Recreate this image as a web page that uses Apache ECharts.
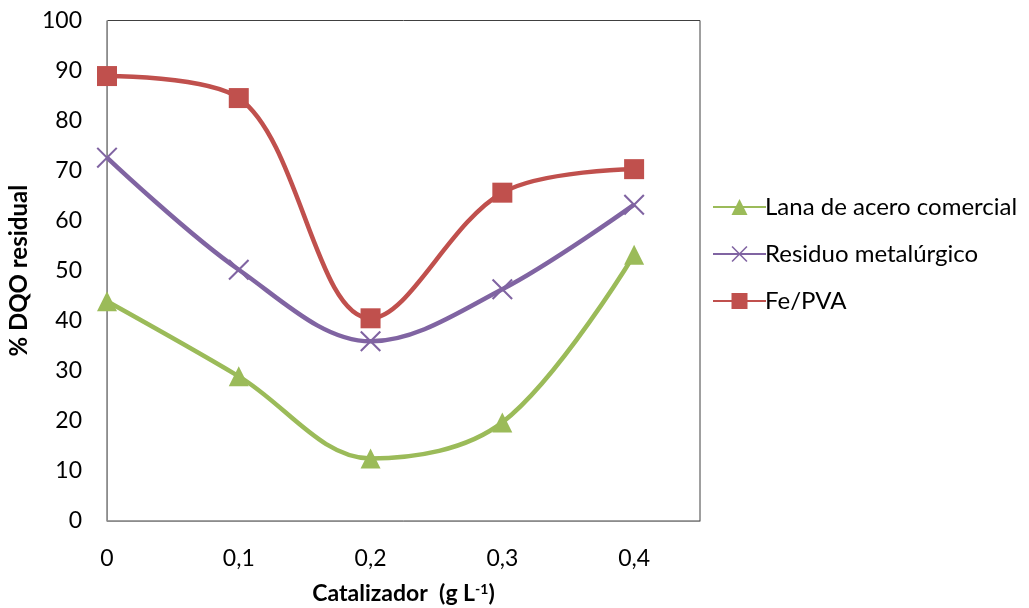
<!DOCTYPE html>
<html>
<head>
<meta charset="utf-8">
<script src="https://cdn.jsdelivr.net/npm/echarts@6/dist/echarts.min.js"></script>
<style>
  html, body { margin: 0; padding: 0; background: #fff; }
  #chart { width: 1029px; height: 608px; }
</style>
</head>
<body>
<div id="chart"></div>
<script>
  // dosis de catalizador (g/L)
  const catalizador = [0, 0.1, 0.2, 0.3, 0.4];
  const lana = [43.9, 28.9, 12.5, 19.7, 53.2];
  const residuo = [72.6, 50.2, 35.9, 46.3, 63.2];
  const fePva = [88.9, 84.5, 40.5, 65.6, 70.3];
  const yTicks = [0, 10, 20, 30, 40, 50, 60, 70, 80, 90, 100];

  const FONT = 'Lato';
  const crossPath = 'path://M0,0.7 L0.7,0 L10,9.3 L9.3,10 Z M9.3,0 L10,0.7 L0.7,10 L0,9.3 Z';

  const pairs = arr => catalizador.map((x, i) => [x, arr[i]]);

  const chart = echarts.init(document.getElementById('chart'));
  chart.setOption({
    animation: false,
    textStyle: { fontFamily: FONT },
    grid: {
      left: 107, right: 329, top: 20.5, bottom: 87,
      outerBoundsMode: 'none',
      containLabel: false,
      show: true, borderColor: '#404040', borderWidth: 1
    },
    legend: {
      orient: 'vertical',
      left: 707,
      top: 190,
      itemWidth: 53,
      itemHeight: 20,
      itemGap: 23,
      textStyle: { fontFamily: FONT, fontSize: 24, color: '#000', padding: [0, 0, 0, -6] },
      data: ['Lana de acero comercial', 'Residuo metalúrgico', 'Fe/PVA']
    },
    xAxis: {
      type: 'value',
      min: 0, max: 0.45, interval: 0.1,
      splitLine: { show: false },
      axisTick: { show: false },
      axisLine: { lineStyle: { color: '#8c8c8c', width: 1 } },
      axisLabel: {
        margin: 26, fontSize: 23, color: '#000', fontFamily: FONT,
        formatter: v => v > 0.41 ? '' : String(Math.round(v * 10) / 10).replace('.', ',')
      },
      name: '{n|Catalizador  (g L}{s|-1}{n|)}',
      nameLocation: 'middle',
      nameGap: 61,
      nameTextStyle: {
        rich: {
          n: { fontSize: 23, fontWeight: 'bold', color: '#000', fontFamily: FONT },
          s: { fontSize: 14, fontWeight: 'bold', color: '#000', fontFamily: FONT, verticalAlign: 'top', padding: [0, 0, 10, 0] }
        }
      }
    },
    yAxis: {
      type: 'value',
      min: 0, max: 100, interval: 10,
      splitLine: { show: false },
      axisTick: { show: false },
      axisLine: { show: true, lineStyle: { color: '#8c8c8c', width: 1 } },
      axisLabel: {
        margin: 25, fontSize: 23, color: '#000', fontFamily: FONT,
        formatter: v => yTicks.includes(v) ? String(v) : ''
      },
      name: '% DQO residual',
      nameLocation: 'middle',
      nameGap: 75,
      nameTextStyle: { fontSize: 24, fontWeight: 'bold', color: '#000', fontFamily: FONT }
    },
    series: [
      {
        name: 'Lana de acero comercial',
        type: 'line',
        smooth: 0.35,
        data: pairs(lana),
        symbol: 'triangle',
        symbolSize: 20,
        lineStyle: { color: '#9BBB59', width: 4.5 },
        itemStyle: { color: '#9BBB59' }
      },
      {
        name: 'Residuo metalúrgico',
        type: 'line',
        smooth: 0.35,
        data: pairs(residuo),
        symbol: crossPath,
        symbolSize: 21,
        lineStyle: { color: '#8064A2', width: 4.5 },
        itemStyle: { color: '#8064A2' }
      },
      {
        name: 'Fe/PVA',
        type: 'line',
        smooth: 0.35,
        data: pairs(fePva),
        symbol: 'rect',
        symbolSize: 20,
        lineStyle: { color: '#C0504D', width: 4.5 },
        itemStyle: { color: '#C0504D' }
      }
    ]
  });
</script>
</body>
</html>
